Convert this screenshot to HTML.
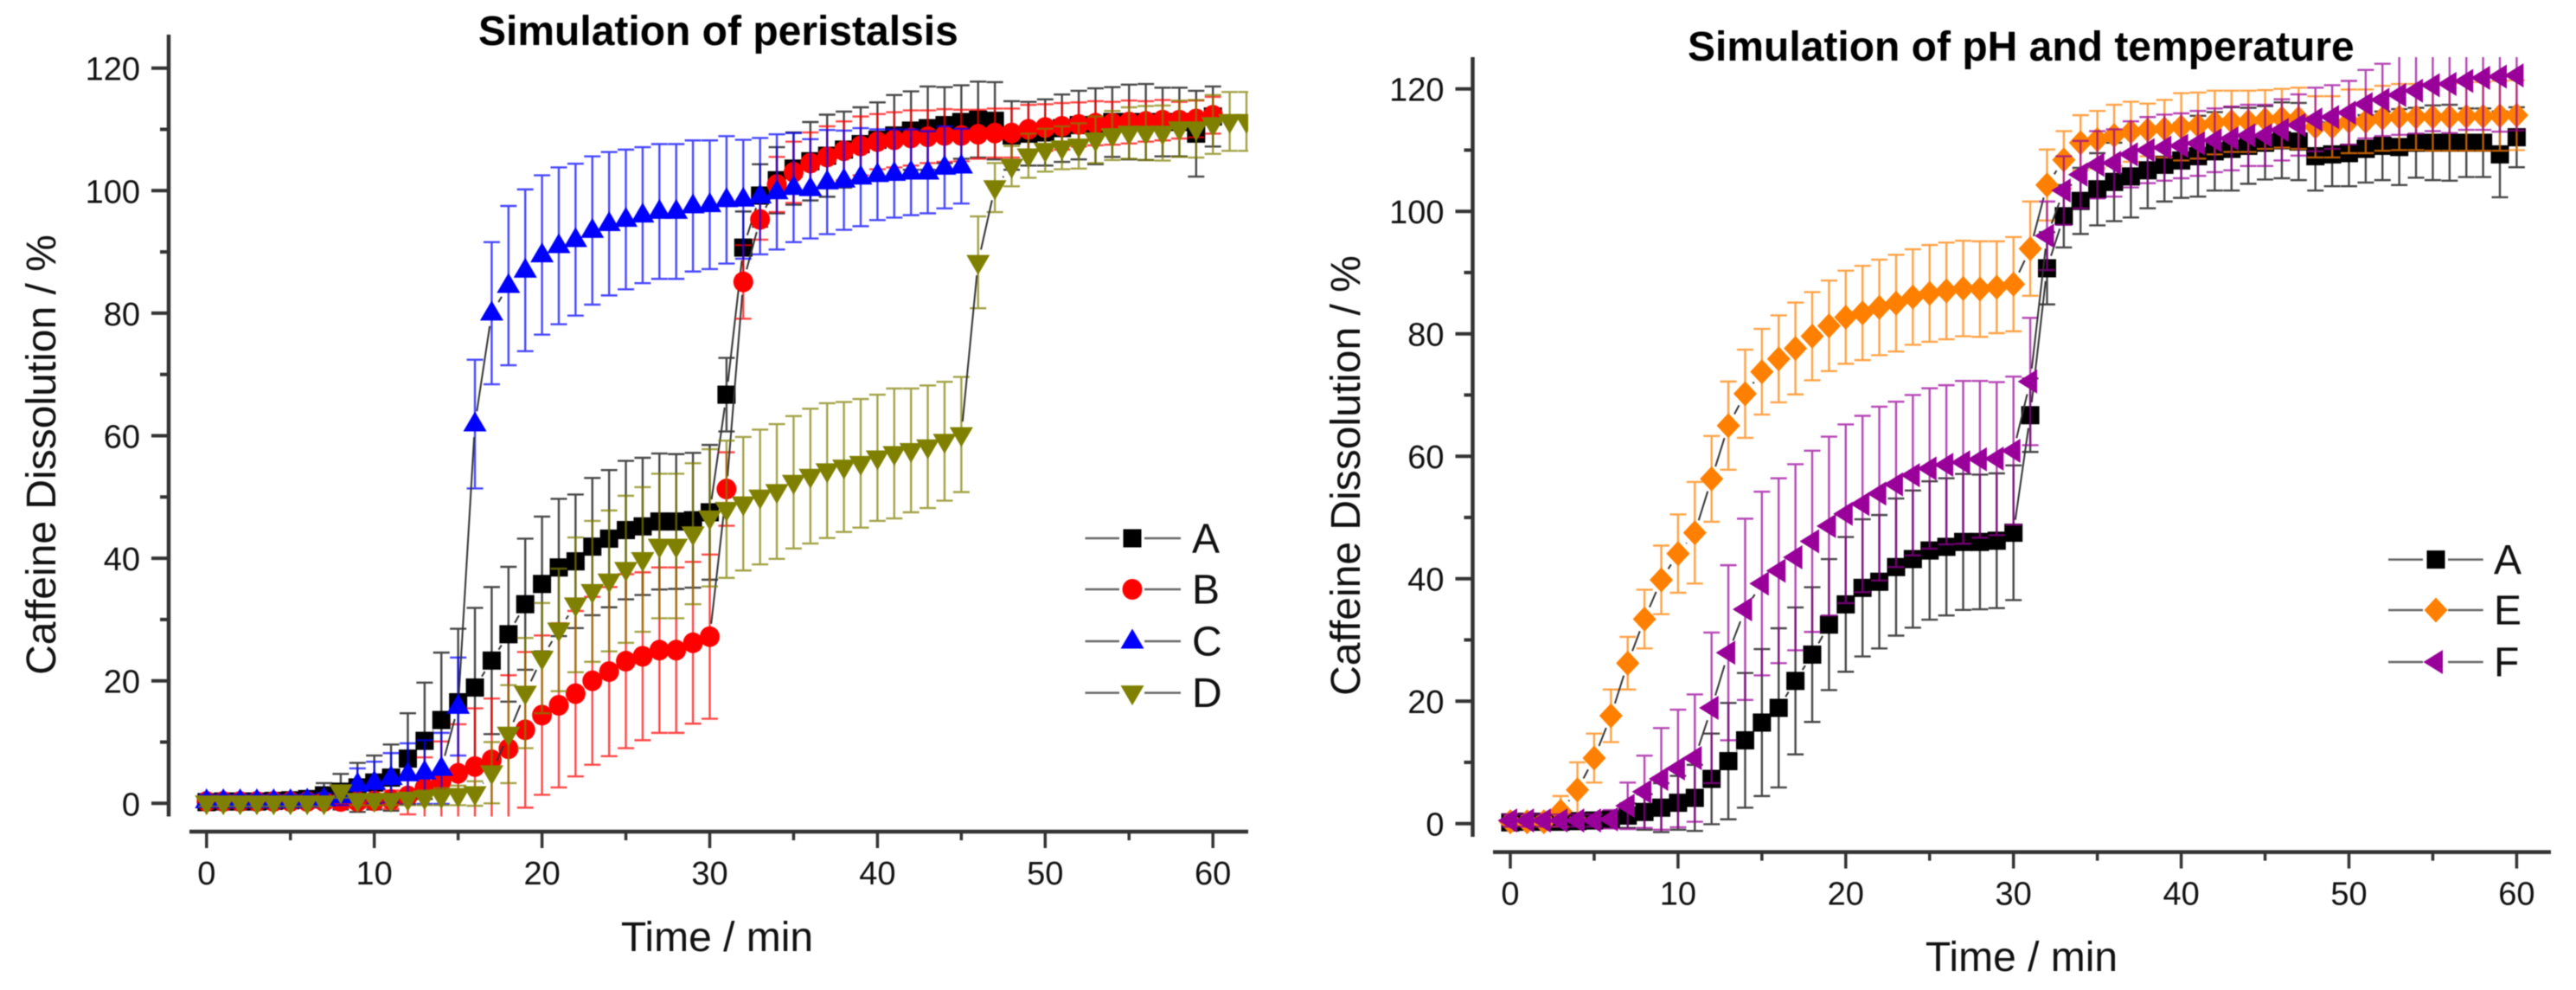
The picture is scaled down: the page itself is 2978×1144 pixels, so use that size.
<!DOCTYPE html>
<html lang="en">
<head>
<meta charset="utf-8">
<title>Caffeine dissolution charts</title>
<style>
html,body{margin:0;padding:0;background:#fff;width:2978px;height:1144px;overflow:hidden}
svg{display:block;filter:blur(0.6px)}
text{font-family:"Liberation Sans",Arial,sans-serif;fill:#111}
.title{font-size:48px;font-weight:bold;fill:#000}
.axis-title{font-size:48px}
.tick-label{font-size:38px}
.legend-label{font-size:48px}
</style>
</head>
<body>
<svg id="figure" width="2978" height="1144" viewBox="0 0 2978 1144" xmlns="http://www.w3.org/2000/svg">
  <rect x="0" y="0" width="2978" height="1144" fill="#fff"/>
  <defs>
    <clipPath id="clip-left"><rect x="197" y="40" width="1246" height="903.5"/></clipPath>
    <clipPath id="clip-right"><rect x="1704" y="66" width="1245" height="901"/></clipPath>
  </defs>
  <g id="chart-left">
    <text class="title" x="553" y="52">Simulation of peristalsis</text>
    <text class="axis-title" transform="translate(64 525.5) rotate(-90)" text-anchor="middle">Caffeine Dissolution / %</text>
    <text class="axis-title" x="829" y="1099" text-anchor="middle">Time / min</text>
  </g>
  <g id="chart-right">
    <text class="title" x="1951" y="70">Simulation of pH and temperature</text>
    <text class="axis-title" transform="translate(1572 549.5) rotate(-90)" text-anchor="middle">Caffeine Dissolution / %</text>
    <text class="axis-title" x="2337" y="1122" text-anchor="middle">Time / min</text>
  </g>
</svg>
<script>
// ---------- Tick labels ----------
const xTickValues = [0, 10, 20, 30, 40, 50, 60];
const xMinorTickValues = [5, 15, 25, 35, 45, 55];
const yTickValues = [0, 20, 40, 60, 80, 100, 120];
const yMinorTickValues = [10, 30, 50, 70, 90, 110];

// ---------- Series values: index = time in minutes ----------
const meanA = [0.2,0.3,0.3,0.3,0.4,0.5,0.7,1.3,1.9,2.6,3.4,4.2,7.3,10.2,13.6,16.5,18.9,23.3,27.6,32.5,35.8,38.5,39.5,41.9,43.2,44.6,45.2,46,46,46.2,47.5,66.7,90.7,99.2,101.7,103.6,104.8,105.7,106.7,107.6,108.3,109,109.8,110.2,110.7,111.2,111.6,111.4,109,109.3,109.5,110.2,110.7,110.5,111.2,111.2,111.2,111.2,111.2,109.3,112.1];
const errA = [0.5,0.5,0.5,0.5,0.5,0.6,1,2,2.9,4,4.4,5.4,7.4,9.5,11,12,13,12,11,10.7,11,11.2,10.9,11.2,11.2,11.3,11.2,11.1,11,11,11,6,5.9,5.1,5.4,5.9,6.4,6.7,6.2,6,6.1,6.6,6.4,6.8,6.2,6,6.2,6.3,5.6,5.2,5.4,5.5,5.6,6.2,5.7,6.1,6.2,5.6,5.6,7,4.9];

const meanB = [0.3,0.3,0.3,0.3,0.3,0.3,0.3,0.3,0.3,0.3,0.4,0.6,1.2,2.5,3.6,4.9,6,7.1,8.9,12,14.4,16,17.9,20,21.5,23.2,24,25,25,26.2,27.2,51.3,85.1,95.3,101,103,104.5,105.5,106.5,107.3,108,108.3,108.6,108.8,109,109,109.2,109.4,109.4,110,110.3,110.5,110.8,111,111,111.2,111.3,111.5,111.5,111.7,112.3];
const errB = [1,1,1,1,1,1,1,1,1,1,1,1.5,3,5,6.5,8,9.5,10,12,12.7,13,13.4,13.5,13.7,13.8,14.2,13.7,13.5,13.5,13.2,13.4,6,6,3.3,4.5,5,5,5,4.8,4.8,4.5,4.5,4.5,4.3,4.3,4.2,4,4,4,4,3.8,3.8,3.6,3.6,3.5,3.5,3.3,3.3,3,3,3];

const meanC = [0.4,0.4,0.4,0.4,0.4,0.4,0.5,0.7,1.2,3.1,3.4,4.2,4.8,5.1,5.7,15.8,61.9,80,84.5,87,89.5,91,92,93.5,94.6,95.3,96,96.6,96.6,97.5,97.7,98.5,98.6,99.1,99.8,100.5,100.3,101.4,101.7,102.2,102.6,102.8,103,103,103.8,104];
const errC = [1,1,1,1,1,1,1,1,1.5,2.6,3.4,4,5,5.2,5.8,8,10.5,11.6,13,13.2,13,12.8,12.4,12.1,11.7,11.4,11.1,11,11,10.7,10.5,10.4,9.7,9.5,9.4,8.9,8.1,8.5,8.1,8,7.4,7.2,7,6.7,6.7,6.1];

const meanD = [0.1,0.1,0.1,0.1,0.1,0.1,0.1,0.1,1.9,0.5,0.5,0.5,0.7,0.9,1.1,1.3,1.6,5,11.3,18,23.7,28.3,32.4,34.6,36.3,38.2,39.8,42,42,44,46.6,48,48.9,50,50.9,52.4,53.4,54.3,54.9,55.5,56.4,57.1,57.6,58.2,59.1,60.2,88.3,100.5,104,105.7,106.6,107,107.3,108.3,109,109.4,109.4,109.4,110.1,110.1,110.8,111.3,111.3];
const errD = [0.6,0.6,0.6,0.6,0.6,0.6,0.6,0.6,1,0.8,0.8,0.8,1,1.2,1.4,1.6,2,5,8,9,9,10,11,11.5,11.5,12,11.8,11.8,11.8,11.5,11.2,11.2,10.9,11,11,10.8,11,11,10.6,10.5,10.3,10.6,10.1,10,9.7,9.4,7.5,4,3.3,3.6,3.5,3.5,3.7,3.8,4,4.2,4.4,4.5,4.6,4.7,4.8,4.8,4.8];

const meanE = [0.3,0.3,0.3,2,5.5,10.7,17.6,26.2,33.4,39.8,44.1,47.5,56.3,65,70.2,73.8,75.9,77.6,79.6,81.3,82.7,83.4,84.3,85,86,86.6,87,87.4,87.3,87.6,88.1,93.9,104.3,108.4,111.2,111.7,112.4,113,113.3,113.5,113.8,114,114.5,114.7,114.7,115,115.2,115.2,113.8,113.8,114.7,114.7,115.2,115.4,115.4,115.4,115.4,115.5,115.5,115.6,115.7];
const errE = [0.5,0.5,0.8,2.5,4.5,4,4.3,4.3,4.8,5.6,6.4,8.3,7,7.2,7.2,7,7.1,7.5,7.2,7.4,7.6,7.7,7.8,7.9,7.8,7.9,7.9,7.8,7.8,7.5,7.7,7.7,5.8,4.7,4.5,4.7,5,4.9,4.3,4.7,5.5,5.4,5.2,5,5,4.8,4.8,5,5,5,5.2,5.2,5.3,5.4,5.4,5.5,5.5,5.6,5.6,5.7,5.7];

const meanF = [0.5,0.5,0.5,0.5,0.5,0.5,0.7,2.9,5.2,7.3,9,10.7,18.9,27.9,35,39.2,41.3,43.5,46.1,48.6,50.6,52.2,53.9,55.4,56.9,58,58.6,59,59.5,59.6,60.9,72.2,96,103.4,106,107.6,107.9,109.3,110,110.4,110.7,111.1,111.6,111.9,112.4,112.4,113.3,114.1,115,115.4,116.1,117.5,118.2,119,119.7,120.6,120.8,121.3,121.8,122,122.2];
const errF = [1,1,1,1,1,1,1.5,3.8,5.9,8.3,9.6,10.4,12.3,14.3,14.8,15,15.1,15.2,14.8,14.6,14.6,14.4,14.2,13.5,13.1,13.1,13,13.3,12.8,12.5,12.1,10.4,5.6,5.6,5.5,5.5,5.5,5.4,5.4,5.4,5.3,5.3,5.2,5.2,5,5,5,5,5.2,5.2,5.2,5.6,5.9,6.5,7,7.5,8,8,8.5,9,9];

// ---------- Axis functions ----------
const leftX = t => 238.8 + 19.39 * t;
const leftY = v => 928.3 - 7.08 * v;
const rightX = t => 1746 + 19.39 * t;
const rightY = v => 951.7 - 7.075 * v;

const NS = 'http://www.w3.org/2000/svg';
function make(tag, attrs, parent) {
  const el = document.createElementNS(NS, tag);
  for (const k in attrs) el.setAttribute(k, attrs[k]);
  parent.appendChild(el);
  return el;
}

function drawMarker(parent, shape, color, cx, cy) {
  let el;
  if (shape === 'square') {
    el = make('rect', {x: cx - 10.5, y: cy - 10.5, width: 21, height: 21, fill: color}, parent);
  } else if (shape === 'circle') {
    el = make('ellipse', {cx: cx, cy: cy, rx: 11.5, ry: 12, fill: color}, parent);
  } else if (shape === 'up') {
    el = make('polygon', {points: [cx, cy - 14.5, cx + 13.5, cy + 8.5, cx - 13.5, cy + 8.5].join(' '), fill: color}, parent);
  } else if (shape === 'down') {
    el = make('polygon', {points: [cx - 13.5, cy - 8.5, cx + 13.5, cy - 8.5, cx, cy + 14.5].join(' '), fill: color}, parent);
  } else if (shape === 'diamond') {
    el = make('polygon', {points: [cx, cy - 14.5, cx + 13.5, cy, cx, cy + 14.5, cx - 13.5, cy].join(' '), fill: color}, parent);
  } else {
    el = make('polygon', {points: [cx - 14.5, cy, cx + 8, cy - 14, cx + 8, cy + 14].join(' '), fill: color}, parent);
  }
  return el;
}

function drawSeries(parent, key, mean, err, shape, color, xf, yf) {
  const group = make('g', {}, parent);
  
  
  const capHalf = 9.5;
  mean.forEach((v, t) => {
    const px = xf(t);
    const top = yf(v + err[t]);
    const bot = yf(v - err[t]);
    const bar = make('path', {
      d: 'M' + (px - capHalf) + ' ' + top + 'H' + (px + capHalf) +
         'M' + px + ' ' + top + 'V' + bot +
         'M' + (px - capHalf) + ' ' + bot + 'H' + (px + capHalf),
      stroke: color, 'stroke-width': 2.4, 'stroke-opacity': 0.72, fill: 'none'
    }, group);
    
    
  });
  const gap = 15;
  for (let t = 1; t < mean.length; t++) {
    const x0 = xf(t - 1), y0 = yf(mean[t - 1]), x1 = xf(t), y1 = yf(mean[t]);
    const len = Math.hypot(x1 - x0, y1 - y0);
    if (len > gap * 2) {
      const ux = (x1 - x0) / len, uy = (y1 - y0) / len;
      const seg = make('line', {
        x1: x0 + ux * gap, y1: y0 + uy * gap, x2: x1 - ux * gap, y2: y1 - uy * gap,
        stroke: '#333', 'stroke-width': 2
      }, group);
      
      
    }
  }
  mean.forEach((v, t) => {
    const m = drawMarker(group, shape, color, xf(t), yf(v));
    
    
  });
}

function drawAxes(chart, cfg) {
  const axisStyle = {stroke: '#333', fill: 'none'};
  const yAxis = make('line', Object.assign({x1: cfg.axisX, x2: cfg.axisX, y1: cfg.axisTop, y2: cfg.axisBottom, 'stroke-width': 4.5}, axisStyle), chart);
  
  
  const xAxis = make('line', Object.assign({x1: cfg.xStart, x2: cfg.xEnd, y1: cfg.axisY, y2: cfg.axisY, 'stroke-width': 4.5}, axisStyle), chart);
  
  

  yTickValues.forEach(v => {
    const py = cfg.yf(v);
    const tick = make('line', Object.assign({x1: cfg.axisX - 20, x2: cfg.axisX, y1: py, y2: py, 'stroke-width': 4}, axisStyle), chart);
    
    
    const label = make('text', {class: 'tick-label', x: cfg.axisX - 33, y: py + 14, 'text-anchor': 'end'}, chart);
    label.textContent = String(v);
    
    
  });
  yMinorTickValues.forEach(v => {
    const py = cfg.yf(v);
    const tick = make('line', Object.assign({x1: cfg.axisX - 10, x2: cfg.axisX, y1: py, y2: py, 'stroke-width': 4}, axisStyle), chart);
    
    
  });
  xTickValues.forEach(t => {
    const px = cfg.xf(t);
    const tick = make('line', Object.assign({x1: px, x2: px, y1: cfg.axisY, y2: cfg.axisY + 19, 'stroke-width': 3.5}, axisStyle), chart);
    
    
    const label = make('text', {class: 'tick-label', x: px, y: cfg.axisY + 61, 'text-anchor': 'middle'}, chart);
    label.textContent = String(t);
    
    
  });
  xMinorTickValues.forEach(t => {
    const px = cfg.xf(t);
    const tick = make('line', Object.assign({x1: px, x2: px, y1: cfg.axisY, y2: cfg.axisY + 10, 'stroke-width': 3.5}, axisStyle), chart);
    
    
  });
}

function drawLegend(chart, cfg) {
  cfg.series.forEach((s, i) => {
    const ly = cfg.legendY[i];
    const entry = make('g', {}, chart);
    
    
    make('line', {x1: cfg.legendX0, x2: cfg.legendXm - 15, y1: ly, y2: ly, stroke: '#666', 'stroke-width': 2.5}, entry);
    make('line', {x1: cfg.legendXm + 14, x2: cfg.legendX1, y1: ly, y2: ly, stroke: '#666', 'stroke-width': 2.5}, entry);
    drawMarker(entry, s.shape, s.color, cfg.legendXm, ly);
    const label = make('text', {class: 'legend-label', x: cfg.legendTextX, y: ly + 16.5}, entry);
    label.textContent = s.key;
  });
}

function drawChart(cfg) {
  const chart = document.getElementById(cfg.groupId);
  drawAxes(chart, cfg);
  const plot = make('g', {'clip-path': 'url(#' + cfg.clipId + ')'}, chart);
  
  
  cfg.series.forEach(s => drawSeries(plot, s.key, s.mean, s.err, s.shape, s.color, cfg.xf, cfg.yf));
  drawLegend(chart, cfg);
}

drawChart({
  id: 'peristalsis', groupId: 'chart-left', clipId: 'clip-left',
  xf: leftX, yf: leftY,
  axisX: 195, axisTop: 40, axisBottom: 943.5, axisY: 961, xStart: 219, xEnd: 1443,
  legendX0: 1254.5, legendX1: 1365, legendXm: 1309, legendTextX: 1378,
  legendY: [622, 681, 741, 800.6],
  series: [
    {key: 'A', mean: meanA, err: errA, shape: 'square', color: '#000000'},
    {key: 'B', mean: meanB, err: errB, shape: 'circle', color: '#ff0000'},
    {key: 'C', mean: meanC, err: errC, shape: 'up', color: '#0000ff'},
    {key: 'D', mean: meanD, err: errD, shape: 'down', color: '#808000'}
  ]
});

drawChart({
  id: 'ph-temperature', groupId: 'chart-right', clipId: 'clip-right',
  xf: rightX, yf: rightY,
  axisX: 1702.5, axisTop: 66, axisBottom: 967, axisY: 984.6, xStart: 1726, xEnd: 2949,
  legendX0: 2761, legendX1: 2870.7, legendXm: 2816, legendTextX: 2883,
  legendY: [646.6, 705, 765],
  series: [
    {key: 'A', mean: meanA, err: errA, shape: 'square', color: '#000000'},
    {key: 'E', mean: meanE, err: errE, shape: 'diamond', color: '#ff8000'},
    {key: 'F', mean: meanF, err: errF, shape: 'left', color: '#990099'}
  ]
});
</script>
</body>
</html>
